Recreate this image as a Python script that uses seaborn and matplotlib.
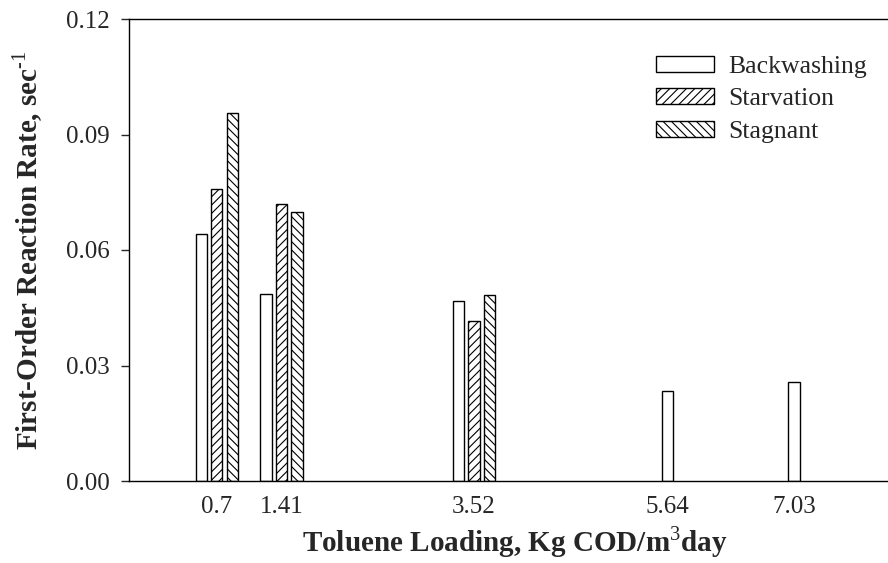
import matplotlib
matplotlib.use("Agg")
import matplotlib.pyplot as plt
import seaborn as sns
import pandas as pd

# Toluene loading (Kg COD/m3 day) and first-order reaction rates (1/sec)
loadings_grouped = [0.7, 1.41, 3.52]
backwashing_grouped = [0.0642, 0.0486, 0.0467]
starvation = [0.0758, 0.0719, 0.0415]
stagnant = [0.0957, 0.0698, 0.0482]

loadings_single = [5.64, 7.03]
backwashing_single = [0.0233, 0.0258]

methods = ["Backwashing", "Starvation", "Stagnant"]
hatches = ["", "////", "\\\\\\\\"]
tick_values = [0.7, 1.41, 3.52, 5.64, 7.03]
tick_labels = ["0.7", "1.41", "3.52", "5.64", "7.03"]
y_ticks = [0.00, 0.03, 0.06, 0.09, 0.12]

grouped = pd.DataFrame({
    "loading": loadings_grouped * 3,
    "method": [m for m in methods for _ in loadings_grouped],
    "rate": backwashing_grouped + starvation + stagnant,
})
single = pd.DataFrame({"loading": loadings_single, "rate": backwashing_single})

sns.set_style("ticks")
plt.rcParams["font.family"] = ["Liberation Serif", "DejaVu Serif"]
plt.rcParams["mathtext.fontset"] = "custom"
plt.rcParams["mathtext.rm"] = "Liberation Serif"
plt.rcParams["mathtext.bf"] = "Liberation Serif:bold"
plt.rcParams["hatch.linewidth"] = 0.8
plt.rcParams["hatch.color"] = "black"

fig = plt.figure(figsize=(8.88, 5.63), dpi=100)
# the plotting area runs slightly past the right edge of the figure
ax = fig.add_axes([129 / 888, 1 - 481 / 563, (900 - 129) / 888, (481 - 19) / 563])

sns.barplot(data=grouped, x="loading", y="rate", hue="method", hue_order=methods,
            native_scale=True, width=0.72, gap=0.267, errorbar=None,
            palette=["white"] * 3, edgecolor="black", linewidth=1.0,
            legend=False, ax=ax)

for container, hatch in zip(ax.containers, hatches):
    for bar in container:
        bar.set_hatch(hatch)
        bar.set_edgecolor("black")
        bar.set_facecolor("white")

sns.barplot(data=single, x="loading", y="rate", native_scale=True,
            width=0.09, errorbar=None, color="white", edgecolor="black",
            linewidth=1.0, ax=ax)
for bar in ax.containers[-1]:
    bar.set_facecolor("white")

ax.legend(handles=list(ax.containers[:3]), labels=methods, loc="upper left",
          bbox_to_anchor=(656 / 888, 1 - 56 / 563), bbox_transform=fig.transFigure,
          frameon=False, fontsize=18.5, handlelength=2.25, handleheight=0.58,
          handletextpad=0.55, labelspacing=0.4, borderpad=0, borderaxespad=0)

ax.set_xlim(-0.262, 8.19)
ax.set_ylim(0, 0.12)
ax.set_xticks(tick_values)
ax.set_xticklabels(tick_labels)
ax.set_yticks(y_ticks)
ax.set_yticklabels([f"{v:.2f}" for v in y_ticks])
ax.tick_params(axis="x", length=0, pad=11, labelsize=18)
ax.tick_params(axis="y", length=6, width=1.0, pad=8, labelsize=18, direction="out")

for side in ["left", "top", "bottom"]:
    ax.spines[side].set_linewidth(1.0)
    ax.spines[side].set_color("black")
ax.spines["right"].set_visible(False)

ax.set_xlabel(r"Toluene Loading, Kg COD/m$^{3}$day", fontsize=21,
              fontweight="bold", labelpad=4)
ax.set_ylabel(r"First-Order Reaction Rate, sec$^{\text{-}1}$", fontsize=21,
              fontweight="bold", labelpad=15)

fig.savefig("out.png", dpi=100)
